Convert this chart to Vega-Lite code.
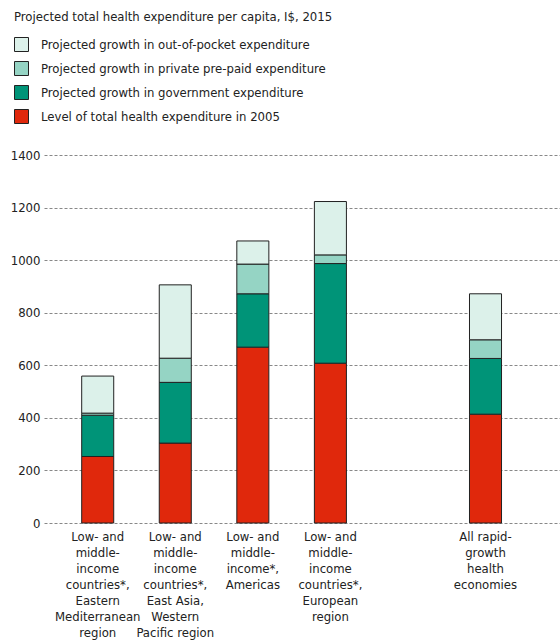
{
  "$schema": "https://vega.github.io/schema/vega-lite/v6.json",
  "width": 516,
  "height": 368,
  "autosize": {"type": "none"},
  "padding": {"left": 44, "top": 155, "right": 0, "bottom": 117},
  "background": "white",
  "config": {
    "font": "DejaVu Sans Condensed, Liberation Sans, sans-serif",
    "view": {"stroke": null}
  },
  "data": {
    "values": [
      {"region": "Low- and|middle-|income|countries*,|Eastern|Mediterranean|region", "component": "Level of total health expenditure in 2005", "value": 253},
      {"region": "Low- and|middle-|income|countries*,|Eastern|Mediterranean|region", "component": "Projected growth in government expenditure", "value": 157},
      {"region": "Low- and|middle-|income|countries*,|Eastern|Mediterranean|region", "component": "Projected growth in private pre-paid expenditure", "value": 8},
      {"region": "Low- and|middle-|income|countries*,|Eastern|Mediterranean|region", "component": "Projected growth in out-of-pocket expenditure", "value": 141},
      {"region": "Low- and|middle-|income|countries*,|East Asia,|Western|Pacific region", "component": "Level of total health expenditure in 2005", "value": 304},
      {"region": "Low- and|middle-|income|countries*,|East Asia,|Western|Pacific region", "component": "Projected growth in government expenditure", "value": 231},
      {"region": "Low- and|middle-|income|countries*,|East Asia,|Western|Pacific region", "component": "Projected growth in private pre-paid expenditure", "value": 92},
      {"region": "Low- and|middle-|income|countries*,|East Asia,|Western|Pacific region", "component": "Projected growth in out-of-pocket expenditure", "value": 279},
      {"region": "Low- and|middle-|income*,|Americas", "component": "Level of total health expenditure in 2005", "value": 669},
      {"region": "Low- and|middle-|income*,|Americas", "component": "Projected growth in government expenditure", "value": 203},
      {"region": "Low- and|middle-|income*,|Americas", "component": "Projected growth in private pre-paid expenditure", "value": 113},
      {"region": "Low- and|middle-|income*,|Americas", "component": "Projected growth in out-of-pocket expenditure", "value": 88},
      {"region": "Low- and|middle-|income|countries*,|European|region", "component": "Level of total health expenditure in 2005", "value": 608},
      {"region": "Low- and|middle-|income|countries*,|European|region", "component": "Projected growth in government expenditure", "value": 379},
      {"region": "Low- and|middle-|income|countries*,|European|region", "component": "Projected growth in private pre-paid expenditure", "value": 33},
      {"region": "Low- and|middle-|income|countries*,|European|region", "component": "Projected growth in out-of-pocket expenditure", "value": 203},
      {"region": "All rapid-|growth|health|economies", "component": "Level of total health expenditure in 2005", "value": 414},
      {"region": "All rapid-|growth|health|economies", "component": "Projected growth in government expenditure", "value": 212},
      {"region": "All rapid-|growth|health|economies", "component": "Projected growth in private pre-paid expenditure", "value": 71},
      {"region": "All rapid-|growth|health|economies", "component": "Projected growth in out-of-pocket expenditure", "value": 175}
    ]
  },
  "transform": [
    {"calculate": "indexof(['Level of total health expenditure in 2005','Projected growth in government expenditure','Projected growth in private pre-paid expenditure','Projected growth in out-of-pocket expenditure'], datum.component)", "as": "ord"}
  ],
  "mark": {"type": "bar", "stroke": "#222222", "strokeWidth": 1},
  "encoding": {
    "x": {
      "field": "region",
      "type": "nominal",
      "sort": null,
      "scale": {
        "domain": [
          "Low- and|middle-|income|countries*,|Eastern|Mediterranean|region",
          "Low- and|middle-|income|countries*,|East Asia,|Western|Pacific region",
          "Low- and|middle-|income*,|Americas",
          "Low- and|middle-|income|countries*,|European|region",
          "",
          "All rapid-|growth|health|economies"
        ],
        "paddingInner": 0.587,
        "paddingOuter": 0.62,
        "align": 0.392
      },
      "axis": {
        "title": null,
        "labelExpr": "split(datum.label, '|')",
        "labelAngle": 0,
        "labelFontSize": 13,
        "labelLineHeight": 16,
        "labelColor": "#222222",
        "labelPadding": 7,
        "labelBaseline": "top",
        "ticks": false,
        "domain": false,
        "grid": false
      }
    },
    "y": {
      "field": "value",
      "type": "quantitative",
      "stack": "zero",
      "scale": {"domain": [0, 1400], "nice": false},
      "axis": {
        "title": null,
        "values": [0, 200, 400, 600, 800, 1000, 1200, 1400],
        "format": "d",
        "labelFontSize": 13,
        "labelColor": "#222222",
        "labelPadding": 4,
        "ticks": false,
        "domain": false,
        "grid": true,
        "gridColor": "#888888",
        "gridDash": [3, 2],
        "gridWidth": 1
      }
    },
    "color": {
      "field": "component",
      "type": "nominal",
      "scale": {
        "domain": [
          "Projected growth in out-of-pocket expenditure",
          "Projected growth in private pre-paid expenditure",
          "Projected growth in government expenditure",
          "Level of total health expenditure in 2005"
        ],
        "range": ["#dcf1ea", "#95d4c4", "#009478", "#e0280c"]
      },
      "legend": {
        "title": "Projected total health expenditure per capita, I$, 2015",
        "orient": "none",
        "legendX": -30,
        "legendY": -144,
        "titleFontSize": 13,
        "titleFontWeight": "normal",
        "titleColor": "#222222",
        "titlePadding": 13,
        "labelFontSize": 13,
        "labelColor": "#222222",
        "labelOffset": 12,
        "symbolType": "square",
        "symbolSize": 196,
        "symbolStrokeColor": "#222222",
        "symbolStrokeWidth": 1,
        "symbolOpacity": 1,
        "rowPadding": 5,
        "labelLimit": 400,
        "titleLimit": 500
      }
    },
    "order": {"field": "ord", "type": "quantitative", "sort": "ascending"}
  }
}
